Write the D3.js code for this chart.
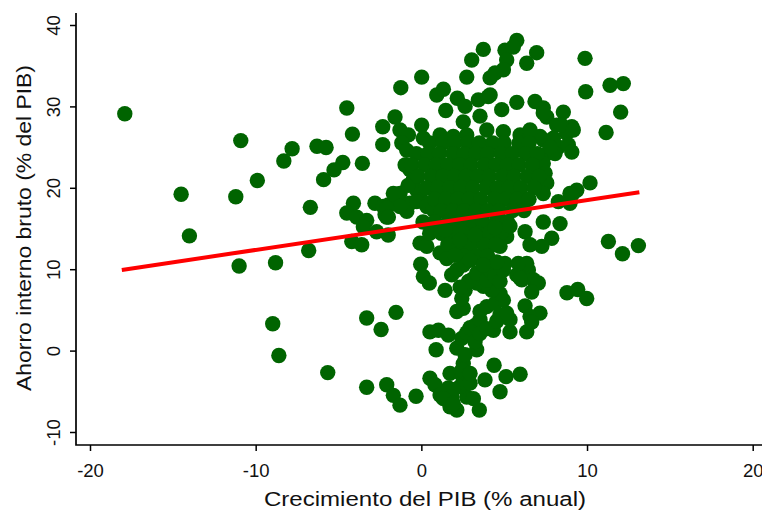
<!DOCTYPE html>
<html><head><meta charset="utf-8">
<script src="https://cdn.jsdelivr.net/npm/d3@7"></script>
<style>body{margin:0;background:#fff}svg{display:block}text{font-family:"Liberation Sans",Arial,Helvetica,sans-serif;fill:#111}</style>
</head><body><svg id="c" width="762" height="513"></svg>
<script>
// Crecimiento del PIB (% anual)
const growth = [
-17.9,-10.9,-14.5,-11.2,-9.9,-8.3,-7.8,-6.3,-5.75,-4.5,
-4.16,-4.74,-5.27,-5.9,-3.56,-2.33,-2.33,-6.7,-14.0,-11.0,
-8.8,-6.8,-8.97,-8.6,-5.65,-3.3,-2.43,-4.1,-4.5,-3.9,
-3.3,-3.5,-2.8,-2.3,-2.1,-2.7,-2.0,-4.2,-3.6,-3.3,
-2.09,-1.69,-1.29,-0.32,-1.53,
-1.99,-2.19,-1.29,-1.48,-0.88,-0.68,-0.08,0.33,1.13,-0.68,-0.48,-0.28,0.02,-1.69,-1.29,-2.09,-1.99,-0.28,0.33,0.72,
-1.59,-1.24,0.02,-1.29,-0.78,-1.18,0.02,0.12,0.93,1.33,2.17,2.64,1.47,2.53,3.54,3.44,4.04,2.74,3.04,3.74,4.15,4.45,5.05,5.15,4.95,5.76,5.55,6.96,6.36,4.85,5.76,6.86,7.36,7.57,8.57,9.08,8.77,8.17,4.15,9.88,9.92,11.39,12.19,12.03,11.15,10.18,9.38,8.97,11.29,12.14,13.1,8.79,9.44,9.98,8.47,9.17,7.97,8.27,8.87,9.08,7.36,7.57,8.07,7.36,7.47,7.57,7.36,9.08,8.27,8.97,7.36,8.37,7.87,7.27,5.15,4.75,3.74,7.77,7.16,7.36,
1.13,1.93,2.74,3.95,4.95,5.96,6.56,
-0.88,-0.98,-0.80,
0.5,1.3,2.0,2.8,3.5,4.3,5.0,5.9,6.5,
-0.3,0.4,1.1,1.9,2.6,3.3,4.0,4.8,5.5,6.3,7.0,
-0.6,0.2,0.9,1.6,2.3,3.0,3.8,4.5,5.2,5.9,6.7,
-0.2,0.6,1.3,2.0,2.7,3.4,4.1,4.9,5.6,6.4,7.1,
0.3,1.0,1.7,2.4,3.1,3.9,4.6,5.3,6.0,6.8,
0.8,1.5,2.2,2.9,3.6,4.4,5.1,5.8,6.5,
1.2,1.9,2.6,3.3,4.0,4.7,5.5,6.2,
0.1,0.8,1.6,2.3,3.0,3.7,4.5,5.2,
0.5,1.2,1.9,2.6,3.4,4.1,4.8,
1.6,2.3,3.0,3.8,4.5,
2.6,3.3,4.0,
-0.04,0.12,0.48,1.43,1.53,0.52,1.03,1.63,0.89,2.14,2.14,2.44,3.34,2.53,1.73,2.44,0.52,0.82,1.13,1.73,2.14,2.74,3.14,2.34,1.63,3.5,3.84,4.39,4.75,5.11,5.96,6.36,6.26,5.35,5.35,
2.74,2.94,3.24,3.54,2.64,2.44,2.84,2.94,1.93,1.83,1.33,1.93,3.24,3.54,3.95,4.35,4.55,4.75,5.15,3.54,3.95,4.45,4.95,4.75,4.25,3.74,3.34,3.04,2.53,2.44,2.64,2.84,2.34,1.83,2.14,2.53,2.94,3.34,3.95,4.15,4.45,4.75,4.95,5.05,4.55,3.74,5.76,6.06,6.46,6.76,7.06,7.16,6.56,6.66,6.36,5.85,5.96,6.66,2.94,
1.43,2.33,3.24,4.45,5.35,6.26,6.56,2.03
];
// Ahorro interno bruto (% del PIB)
const saving = [
29.1,25.8,19.2,18.9,20.9,23.3,24.8,25.1,24.95,29.8,
26.6,23.1,22.2,21.0,23.0,27.5,25.3,17.6,14.1,10.4,
10.8,12.3,3.3,-0.6,-2.7,4.0,2.6,18.1,16.9,16.4,
16.0,15.2,18.1,17.7,16.4,14.6,14.2,13.4,13.0,-4.5,
-4.2,-5.5,-6.7,-5.6,4.7,
17.9,16.7,19.3,18.5,17.1,18.1,13.2,12.8,12.0,22.2,21.0,19.7,18.5,19.3,17.7,17.5,16.4,18.3,17.7,17.3,
28.7,32.3,33.6,27.1,26.5,25.5,27.7,26.1,31.4,32.1,31.0,30.0,29.5,28.1,28.8,30.8,31.2,33.6,35.7,37.0,33.5,34.1,36.9,35.7,34.5,38.1,37.3,36.6,35.3,29.6,30.5,30.6,29.8,28.7,29.3,27.5,26.7,27.7,31.4,35.9,31.8,32.6,32.8,29.3,26.8,20.6,19.7,19.3,13.4,11.9,12.9,7.1,7.5,6.4,27.7,27.1,26.1,25.0,25.3,24.4,25.9,24.2,24.2,23.0,21.8,20.6,19.3,19.1,18.3,18.1,15.8,15.6,13.8,12.8,14.0,12.8,12.0,25.0,26.3,29.2,
26.5,26.3,26.5,27.1,26.9,26.5,27.1,
24.6,22.8,20.3,
25.5,25.5,25.5,25.5,25.5,25.5,25.5,25.5,25.5,
24.2,24.2,24.2,24.2,24.2,24.2,24.2,24.2,24.2,24.2,24.2,
22.8,22.8,22.8,22.8,22.8,22.8,22.8,22.8,22.8,22.8,22.8,
21.4,21.4,21.4,21.4,21.4,21.4,21.4,21.4,21.4,21.4,21.4,
20.0,20.0,20.0,20.0,20.0,20.0,20.0,20.0,20.0,20.0,
18.6,18.6,18.6,18.6,18.6,18.6,18.6,18.6,18.6,
17.2,17.2,17.2,17.2,17.2,17.2,17.2,17.2,
15.8,15.8,15.8,15.8,15.8,15.8,15.8,15.8,
14.4,14.4,14.4,14.4,14.4,14.4,14.4,
13.0,13.0,13.0,13.0,13.0,
11.6,11.6,11.6,
10.6,9.1,8.3,7.4,11.3,2.3,2.5,1.9,0.1,4.8,0.3,1.5,0.1,-1.6,-2.8,-3.0,-3.4,-4.2,-5.45,-6.9,-7.3,-5.7,-5.9,-4.4,-4.6,-7.3,-3.6,-1.8,-5.05,-3.2,-2.9,2.3,5.5,2.3,3.8,
2.2,2.8,3.1,3.8,-0.5,-2.4,-3.0,-4.0,-4.8,-5.7,-5.9,-6.5,1.1,2.1,2.7,2.5,3.6,4.4,4.6,4.8,5.4,5.8,6.2,7.0,7.4,7.9,8.3,8.7,5.2,6.4,7.4,8.5,7.8,9.3,9.9,10.5,11.1,9.5,8.7,9.9,9.1,8.5,9.9,10.7,10.9,10.5,9.3,8.7,9.9,8.7,8.3,4.6,4.2,3.5,10.7,10.7,8.9,7.2,-2.8,
14.8,13.6,14.2,15.1,15.3,14.6,13.0,11.7
];
// Línea de ajuste
const fitX = [-18.08, 13.16];
const fitY = [9.9, 19.45];
const xTicks = [-20, -10, 0, 10, 20];
const yTicks = [-10, 0, 10, 20, 30, 40];
const xTitle = "Crecimiento del PIB (% anual)";
const yTitle = "Ahorro interno bruto (% del PIB)";

const svg = d3.select("#c");
const plot = {left: 76, right: 762, top: 13, bottom: 445};
const x = d3.scaleLinear().domain([-20, 20]).range([90, 752.7]);
const y = d3.scaleLinear().domain([-10, 40]).range([432, 25]);

const pts = growth.map((g, i) => [g, saving[i]]);
svg.append("g").selectAll("circle").data(pts).join("circle")
  .attr("cx", d => x(d[0])).attr("cy", d => y(d[1]))
  .attr("r", 7.7).attr("fill", "#006400");

svg.append("path").datum(fitX.map((v, i) => [v, fitY[i]]))
  .attr("d", d3.line().x(d => x(d[0])).y(d => y(d[1])))
  .attr("fill", "none").attr("stroke", "#ff0000").attr("stroke-width", 4);

// axes
const gx = svg.append("g").attr("transform", `translate(0,${plot.bottom})`)
  .call(d3.axisBottom(x).tickValues(xTicks).tickSize(6).tickFormat(d => String(d)));
gx.select(".domain").remove();
gx.selectAll(".tick line").attr("stroke", "#000").attr("stroke-width", 1.5);
gx.selectAll(".tick text").attr("y", 19).attr("dy", "0.71em").attr("font-size", 18.5).attr("fill", "#111")
  .attr("font-family", '"Liberation Sans", Arial, sans-serif');

const gy = svg.append("g").attr("transform", `translate(${plot.left},0)`)
  .call(d3.axisLeft(y).tickValues(yTicks).tickSize(6).tickFormat(d => String(d)));
gy.select(".domain").remove();
gy.selectAll(".tick line").attr("stroke", "#000").attr("stroke-width", 1.5);
gy.selectAll(".tick text").attr("x", 0).attr("dy", 0).attr("text-anchor", "middle")
  .attr("transform", "translate(-16,0) rotate(-90)").attr("font-size", 18.5).attr("fill", "#111")
  .attr("font-family", '"Liberation Sans", Arial, sans-serif');

svg.append("path")
  .attr("d", `M${plot.left},${plot.top}V${plot.bottom}H${plot.right}`)
  .attr("fill", "none").attr("stroke", "#000").attr("stroke-width", 1.7);

svg.append("text").attr("x", 425).attr("y", 506).attr("text-anchor", "middle")
  .attr("font-size", 20).attr("textLength", 322).attr("lengthAdjust", "spacingAndGlyphs").text(xTitle);
svg.append("text").attr("transform", "translate(31,228) rotate(-90)").attr("text-anchor", "middle")
  .attr("font-size", 21).attr("textLength", 326).attr("lengthAdjust", "spacingAndGlyphs").text(yTitle);
</script></body></html>
